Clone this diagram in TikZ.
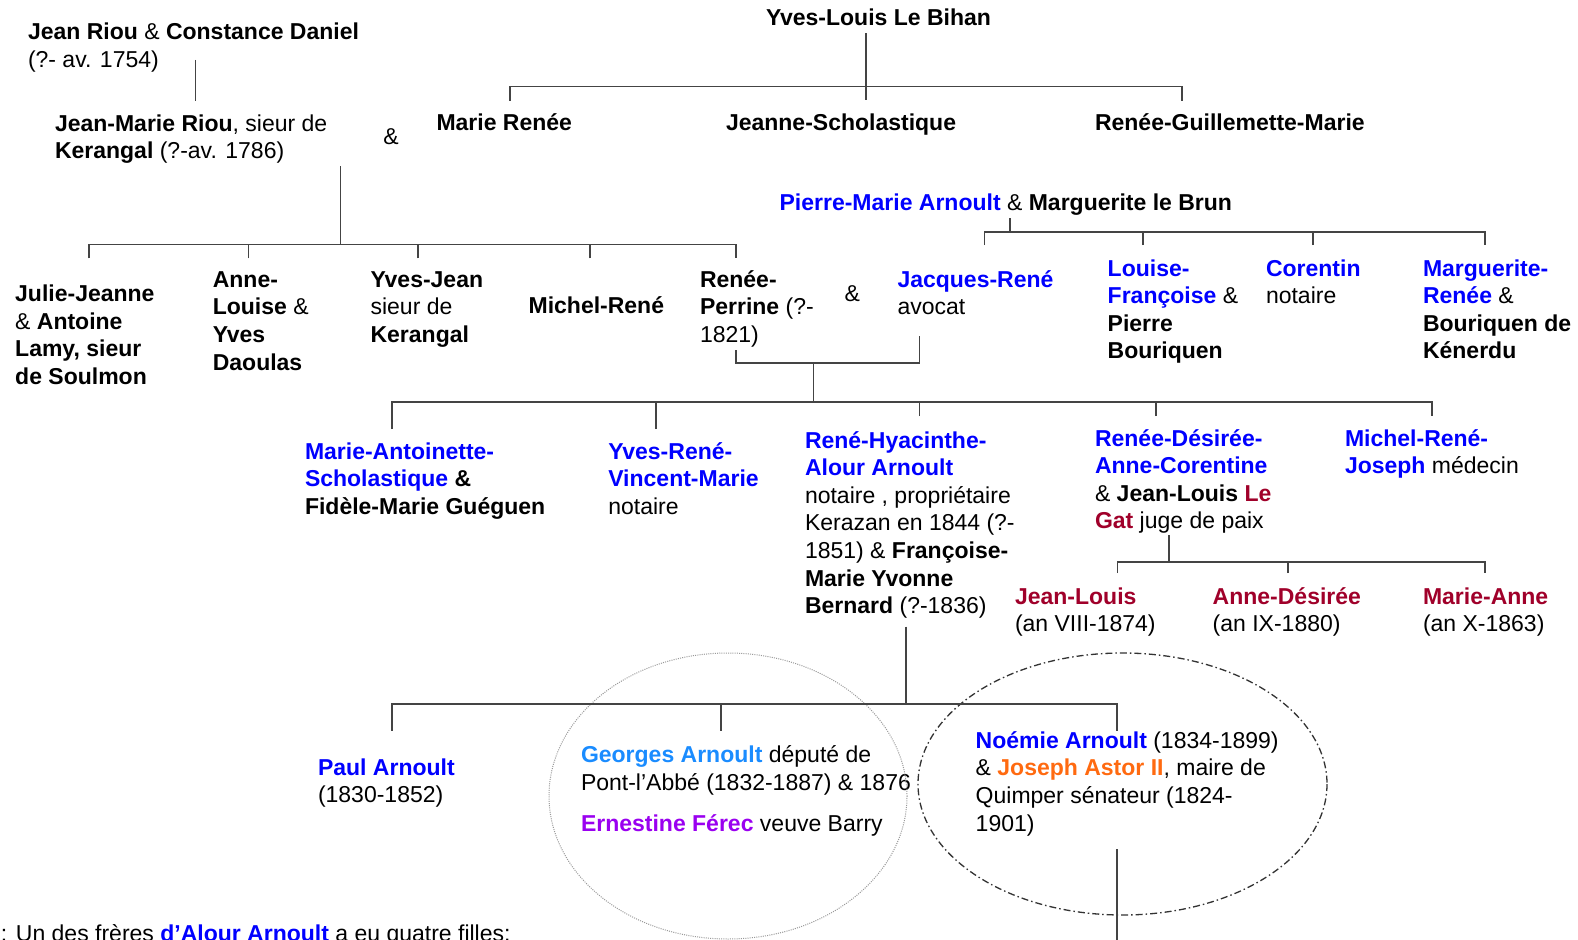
\documentclass[tikz,border=0pt]{standalone}
\usepackage{fontspec}
\setmainfont{Liberation Sans}
\definecolor{nblue}{HTML}{0000FF}
\definecolor{lblue}{HTML}{1A8CFF}
\definecolor{purp}{HTML}{9A00F0}
\definecolor{orng}{HTML}{FF6A10}
\definecolor{dred}{HTML}{A0002A}
\definecolor{linec}{HTML}{444444}
\definecolor{dotc}{HTML}{999999}
\definecolor{dashc}{HTML}{333333}
\newcommand\fs{\rule{0pt}{18pt}}
\newcommand\nmB[1]{\textcolor{nblue}{\textbf{#1}}}
\newcommand\nmR[1]{\textcolor{dred}{\textbf{#1}}}
\newcommand\nmG[1]{\textcolor{lblue}{\textbf{#1}}}
\newcommand\nmP[1]{\textcolor{purp}{\textbf{#1}}}
\newcommand\nmO[1]{\textcolor{orng}{\textbf{#1}}}
\begin{document}
\begin{tikzpicture}[x=1pt,y=-1pt,
  txt/.style={anchor=north west,inner sep=0pt,outer sep=0pt,align=left,
    font=\fontsize{23}{27.6}\selectfont},
  link/.style={draw=linec,line width=1.6pt},
  dotell/.style={draw=dotc,line width=1pt,dash pattern=on 1pt off 1.2pt},
  dashell/.style={draw=dashc,line width=1.3pt,dash pattern=on 7pt off 3pt on 1.5pt off 3pt}]
\useasboundingbox (0,0) rectangle (1578,939);
\clip (0,0) rectangle (1578,939);
\fill[white] (0,0) rectangle (1578,939);

% ---------- text nodes (y = first baseline - 18) ----------
\node[txt] (jriou) at (28,21.5) {\fs\textbf{Jean Riou} \& \textbf{Constance Daniel}\\(?- av. 1754)};
\node[txt] (yvesl) at (766,8) {\fs\textbf{Yves-Louis Le Bihan}};
\node[txt] (jmriou) at (55,113) {\fs\textbf{Jean-Marie Riou}, sieur de\\\textbf{Kerangal} (?-av. 1786)};
\node[txt] (amp1) at (383.4,126) {\fs\&};
\node[txt] (marier) at (436.5,113) {\fs\textbf{Marie Renée}};
\node[txt] (jeannes) at (726,112.5) {\fs\textbf{Jeanne-Scholastique}};
\node[txt] (reneeg) at (1095,113) {\fs\textbf{Renée-Guillemette-Marie}};
\node[txt] (pierre) at (779.6,192) {\fs\nmB{Pierre-Marie Arnoult} \& \textbf{Marguerite le Brun}};

\node[txt] (julie) at (15.2,283.7) {\fs\textbf{Julie-Jeanne}\\\& \textbf{Antoine}\\\textbf{Lamy, sieur}\\\textbf{de Soulmon}};
\node[txt] (anne) at (212.8,269.3) {\fs\textbf{Anne-}\\\textbf{Louise} \&\\\textbf{Yves}\\\textbf{Daoulas}};
\node[txt] (yvesj) at (370.6,269.3) {\fs\textbf{Yves-Jean}\\sieur de\\\textbf{Kerangal}};
\node[txt] (michel) at (528.6,295.3) {\fs\textbf{Michel-René}};
\node[txt] (reneep) at (700,269.3) {\fs\textbf{Renée-}\\\textbf{Perrine} (?-\\1821)};
\node[txt] (amp2) at (844.6,283.7) {\fs\&};
\node[txt] (jacques) at (897.5,269.3) {\fs\nmB{Jacques-René}\\avocat};
\node[txt] (louise) at (1107.7,258) {\fs\nmB{Louise-}\\\nmB{Françoise} \&\\\textbf{Pierre}\\\textbf{Bouriquen}};
\node[txt] (corentin) at (1266,258) {\fs\nmB{Corentin}\\notaire};
\node[txt] (margr) at (1423,258) {\fs\nmB{Marguerite-}\\\nmB{Renée} \&\\\textbf{Bouriquen de}\\\textbf{Kénerdu}};

\node[txt] (mant) at (305,441.3) {\fs\nmB{Marie-Antoinette-}\\\nmB{Scholastique} \textbf{\&}\\\textbf{Fidèle-Marie Guéguen}};
\node[txt] (yvesr) at (608.3,441.3) {\fs\nmB{Yves-René-}\\\nmB{Vincent-Marie}\\notaire};
\node[txt] (reneh) at (805,430) {\fs\nmB{René-Hyacinthe-}\\\nmB{Alour Arnoult}\\notaire , propriétaire\\Kerazan en 1844 (?-\\1851) \& \textbf{Françoise-}\\\textbf{Marie Yvonne}\\\textbf{Bernard} (?-1836)};
\node[txt] (reneed) at (1095,428) {\fs\nmB{Renée-Désirée-}\\\nmB{Anne-Corentine}\\\& \textbf{Jean-Louis} \nmR{Le}\\\nmR{Gat} juge de paix};
\node[txt] (micheljr) at (1345,428) {\fs\nmB{Michel-René-}\\\nmB{Joseph} médecin};

\node[txt] (jeanl) at (1015,586) {\fs\nmR{Jean-Louis}\\(an VIII-1874)};
\node[txt] (anned) at (1212.7,586) {\fs\nmR{Anne-Désirée}\\(an IX-1880)};
\node[txt] (mariea) at (1423,586) {\fs\nmR{Marie-Anne}\\(an X-1863)};

\node[txt] (paul) at (318,757) {\fs\nmB{Paul Arnoult}\\(1830-1852)};
\node[txt] (georges) at (581,744.7) {\fs\nmG{Georges Arnoult} député de\\Pont-l’Abbé (1832-1887) \& 1876\\[14pt]\nmP{Ernestine Férec} veuve Barry};
\node[txt] (noemie) at (975.7,730.3) {\fs\nmB{Noémie Arnoult} (1834-1899)\\\& \nmO{Joseph Astor II}, maire de\\Quimper sénateur (1824-\\1901)};
\node[txt] (note) at (1,923.5) {\fs: Un des frères \nmB{d’Alour Arnoult} a eu quatre filles:};

% ---------- ellipses ----------
\draw[dotell] (728,796) ellipse [x radius=179, y radius=143];
\draw[dashell] (1122.5,784) ellipse [x radius=204.5, y radius=131];

% ---------- connectors ----------
% Jean Riou & Constance Daniel -> Jean-Marie Riou
\coordinate (jriou-d) at (195.3,60);
\coordinate (jmriou-u) at (195.3,101);
\draw[link] (jriou-d) -- (jmriou-u);

% Yves-Louis Le Bihan -> his three daughters
\coordinate (yvesl-d) at (866,33.3);
\coordinate (yvesl-bar) at (866,86.7);
\coordinate (jeannes-u) at (866,100);
\coordinate (marier-u) at (510,100.7);
\coordinate (reneeg-u) at (1182,100.7);
\draw[link] (yvesl-d) -- (jeannes-u);
\draw[link] (marier-u) |- (yvesl-bar) -| (reneeg-u);

% Jean-Marie Riou & Marie Renee -> children
\coordinate (jm-d) at (340.5,166);
\coordinate (jm-bar) at (340.5,244.3);
\coordinate (julie-u) at (89.2,258.3);
\coordinate (anne-u) at (248.3,258.3);
\coordinate (yvesj-u) at (418.2,258.3);
\coordinate (michel-u) at (590,258.3);
\coordinate (reneep-u) at (735.7,258.3);
\draw[link] (jm-d) -- (jm-bar);
\draw[link] (julie-u) |- (jm-bar) -| (reneep-u);
\draw[link] (anne-u) -- (anne-u |- jm-bar);
\draw[link] (yvesj-u) -- (yvesj-u |- jm-bar);
\draw[link] (michel-u) -- (michel-u |- jm-bar);

% Pierre-Marie Arnoult & Marguerite le Brun -> children
\coordinate (pierre-d) at (1010,218);
\coordinate (pierre-bar) at (1010,231.7);
\coordinate (jacques-u) at (984.6,245);
\coordinate (louise-u) at (1142.7,245);
\coordinate (corentin-u) at (1313,245);
\coordinate (margr-u) at (1485,245);
\draw[link] (pierre-d) -- (pierre-bar);
\draw[link] (jacques-u) |- (pierre-bar) -| (margr-u);
\draw[link] (louise-u) -- (louise-u |- pierre-bar);
\draw[link] (corentin-u) -- (corentin-u |- pierre-bar);

% Renee-Perrine & Jacques-Rene -> children
\coordinate (reneep-d) at (735.7,350);
\coordinate (jacques-d) at (919.6,336);
\coordinate (couple-bar) at (813.5,362.7);
\coordinate (row3-bar) at (813.5,402);
\draw[link] (reneep-d) |- (couple-bar) -| (jacques-d);
\draw[link] (couple-bar) -- (row3-bar);
\coordinate (mant-u) at (391.7,429);
\coordinate (yvesr-u) at (656,429);
\coordinate (reneh-u) at (919.3,416);
\coordinate (reneed-u) at (1155.7,416);
\coordinate (micheljr-u) at (1431.7,416);
\draw[link] (mant-u) |- (row3-bar) -| (micheljr-u);
\draw[link] (yvesr-u) -- (yvesr-u |- row3-bar);
\draw[link] (reneh-u) -- (reneh-u |- row3-bar);
\draw[link] (reneed-u) -- (reneed-u |- row3-bar);

% Renee-Desiree & Jean-Louis Le Gat -> children
\coordinate (reneed-d) at (1169,535);
\coordinate (reneed-bar) at (1169,561.7);
\coordinate (jeanl-u) at (1117.3,573);
\coordinate (anned-u) at (1287.7,573);
\coordinate (mariea-u) at (1485,573);
\draw[link] (reneed-d) -- (reneed-bar);
\draw[link] (jeanl-u) |- (reneed-bar) -| (mariea-u);
\draw[link] (anned-u) -- (anned-u |- reneed-bar);

% Rene-Hyacinthe & Francoise-Marie -> children
\coordinate (reneh-d) at (905.7,626.7);
\coordinate (reneh-bar) at (905.7,704);
\coordinate (paul-u) at (392,730.7);
\coordinate (georges-u) at (721,730.7);
\coordinate (noemie-u) at (1116.7,730.7);
\draw[link] (reneh-d) -- (reneh-bar);
\draw[link] (paul-u) |- (reneh-bar) -| (noemie-u);
\draw[link] (georges-u) -- (georges-u |- reneh-bar);

% Noemie & Joseph Astor -> descendants (off the page)
\coordinate (noemie-d) at (1116.7,849);
\coordinate (noemie-end) at (1116.7,945);
\draw[link] (noemie-d) -- (noemie-end);
\end{tikzpicture}
\end{document}
